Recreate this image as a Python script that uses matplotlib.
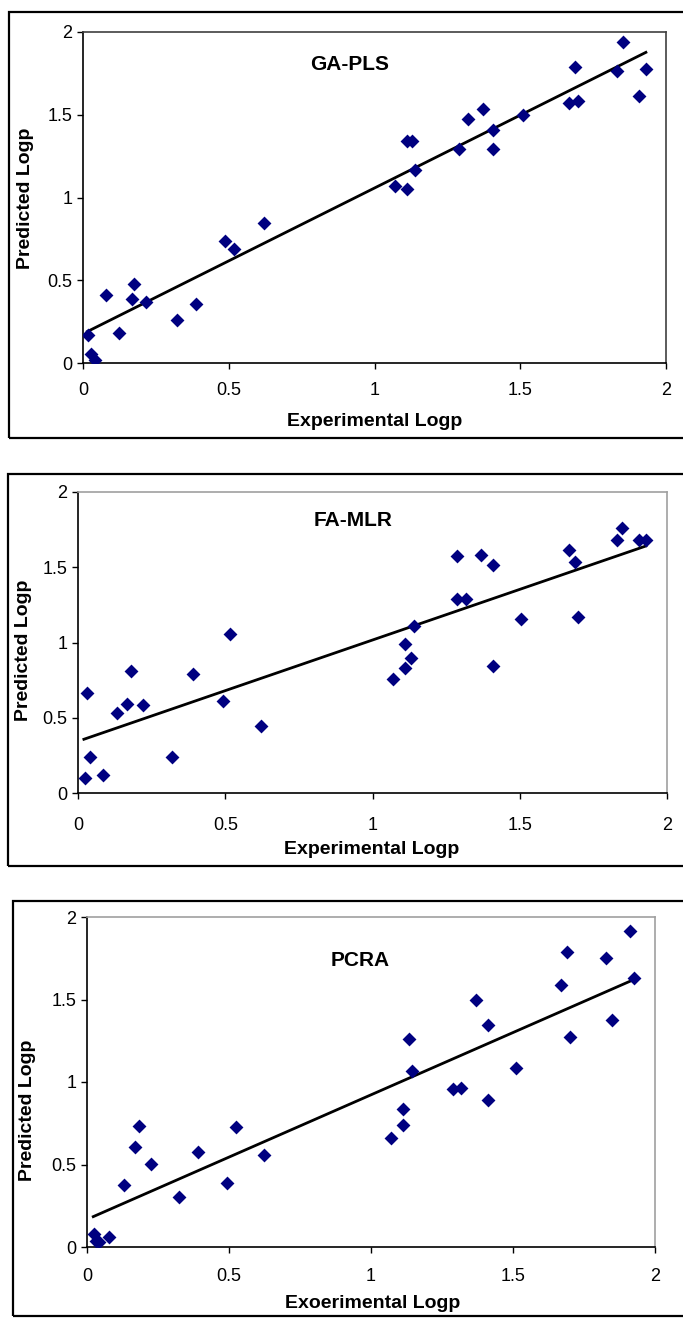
import matplotlib
matplotlib.use("Agg")
import matplotlib.pyplot as plt
from matplotlib.patches import Rectangle

plt.rcParams['font.family'] = ['Liberation Sans', 'DejaVu Sans']

# GA-PLS
ga_x = [0.018, 0.027, 0.040, 0.079, 0.125, 0.167, 0.176, 0.215, 0.321, 0.388,
        0.488, 0.519, 0.621, 1.070, 1.111, 1.111, 1.128, 1.139, 1.291, 1.321,
        1.372, 1.408, 1.408, 1.511, 1.667, 1.689, 1.699, 1.833, 1.854, 1.908,
        1.930]
ga_y = [0.169, 0.054, 0.016, 0.413, 0.180, 0.387, 0.475, 0.370, 0.260, 0.358,
        0.735, 0.690, 0.844, 1.069, 1.049, 1.340, 1.340, 1.166, 1.293, 1.472,
        1.535, 1.408, 1.293, 1.500, 1.571, 1.787, 1.581, 1.766, 1.940, 1.615,
        1.776]
ga_fit_x = [0.015, 1.931]
ga_fit_y = [0.190, 1.877]

# FA-MLR
fa_x = [0.023, 0.032, 0.041, 0.084, 0.131, 0.166, 0.180, 0.220, 0.320, 0.390,
        0.492, 0.517, 0.621, 1.070, 1.111, 1.111, 1.132, 1.142, 1.288, 1.288,
        1.319, 1.369, 1.410, 1.410, 1.505, 1.667, 1.689, 1.699, 1.831, 1.846,
        1.906, 1.928]
fa_y = [0.098, 0.662, 0.237, 0.118, 0.534, 0.593, 0.810, 0.583, 0.237, 0.790,
        0.613, 1.058, 0.443, 0.760, 0.828, 0.990, 0.900, 1.110, 1.573, 1.287,
        1.287, 1.584, 1.513, 0.844, 1.158, 1.615, 1.533, 1.170, 1.683, 1.761,
        1.683, 1.683]
fa_fit_x = [0.020, 1.928]
fa_fit_y = [0.357, 1.641]

# PCRA
pc_x = [0.024, 0.032, 0.042, 0.079, 0.130, 0.170, 0.183, 0.224, 0.323, 0.390,
        0.493, 0.523, 0.622, 1.069, 1.111, 1.111, 1.133, 1.143, 1.290, 1.318,
        1.369, 1.411, 1.411, 1.510, 1.669, 1.690, 1.700, 1.829, 1.850, 1.912,
        1.927]
pc_y = [0.081, 0.036, 0.032, 0.061, 0.378, 0.608, 0.733, 0.503, 0.301, 0.574,
        0.388, 0.725, 0.558, 0.663, 0.741, 0.838, 1.262, 1.069, 0.960, 0.964,
        1.495, 1.343, 0.891, 1.087, 1.590, 1.786, 1.273, 1.750, 1.378, 1.917,
        1.628]
pc_fit_x = [0.022, 1.927]
pc_fit_y = [0.184, 1.622]

ticks = [0, 0.5, 1, 1.5, 2]
tick_labels = ['0', '0.5', '1', '1.5', '2']

W, H = 683, 1318
fig = plt.figure(figsize=(W / 100, H / 100), dpi=100)


def fx(px):
    return px / W


def fy(py):
    return 1 - py / H


# 各パネル: (データ, 枠, 軸の位置, タイトル, ラベル)
panels = [
    dict(x=ga_x, y=ga_y, fx_=ga_fit_x, fy_=ga_fit_y, title='GA-PLS',
         xlabel='Experimental Logp',
         frame=(9, 12, 700, 438), axes=(83, 32, 666, 363),
         title_pos=(350, 64), ylab_pos=(25, 198), xlab_pos=(375, 421),
         border='#404040', xpad=10),
    dict(x=fa_x, y=fa_y, fx_=fa_fit_x, fy_=fa_fit_y, title='FA-MLR',
         xlabel='Experimental Logp',
         frame=(8, 474, 700, 866), axes=(78, 492, 667, 793),
         title_pos=(353, 520), ylab_pos=(24, 650), xlab_pos=(372, 849),
         border='#a0a0a0', xpad=13),
    dict(x=pc_x, y=pc_y, fx_=pc_fit_x, fy_=pc_fit_y, title='PCRA',
         xlabel='Exoerimental Logp',
         frame=(13, 901, 700, 1316), axes=(87, 917, 655, 1247),
         title_pos=(360, 960), ylab_pos=(28, 1110), xlab_pos=(373, 1304),
         border='#a0a0a0', xpad=11),
]

for p in panels:
    # 外枠
    x0, y0, x1, y1 = p['frame']
    fig.add_artist(Rectangle((fx(x0), fy(y1)), (x1 - x0) / W, (y1 - y0) / H,
                             transform=fig.transFigure, fill=False,
                             edgecolor='black', linewidth=1.6))

    l, t, r, b = p['axes']
    ax = fig.add_axes([fx(l), fy(b), (r - l) / W, (b - t) / H])
    ax.scatter(p['x'], p['y'], marker='D', s=50, color='#000080',
               linewidths=0, zorder=3)
    ax.plot(p['fx_'], p['fy_'], color='black', linewidth=2.0, zorder=2)

    ax.set_xlim(0, 2)
    ax.set_ylim(0, 2)
    ax.set_xticks(ticks)
    ax.set_xticklabels(tick_labels)
    ax.set_yticks(ticks)
    ax.set_yticklabels(tick_labels)
    ax.tick_params(axis='both', direction='out', length=4, width=1,
                   labelsize=13)
    ax.tick_params(axis='x', pad=p['xpad'])
    ax.tick_params(axis='y', pad=3.5)
    for s in ['left', 'bottom']:
        ax.spines[s].set_color('black')
        ax.spines[s].set_linewidth(1.2)
    for s in ['top', 'right']:
        ax.spines[s].set_color(p['border'])
        ax.spines[s].set_linewidth(1.2)

    # タイトルと軸ラベル
    tx, ty = p['title_pos']
    fig.text(fx(tx), fy(ty), p['title'], ha='center', va='center',
             fontsize=15, fontweight='bold')
    yx, yy = p['ylab_pos']
    fig.text(fx(yx), fy(yy), 'Predicted Logp', ha='center', va='center',
             rotation=90, fontsize=14, fontweight='bold')
    xx, xy = p['xlab_pos']
    fig.text(fx(xx), fy(xy), p['xlabel'], ha='center', va='center',
             fontsize=14, fontweight='bold')

fig.savefig('out.png', dpi=100)
